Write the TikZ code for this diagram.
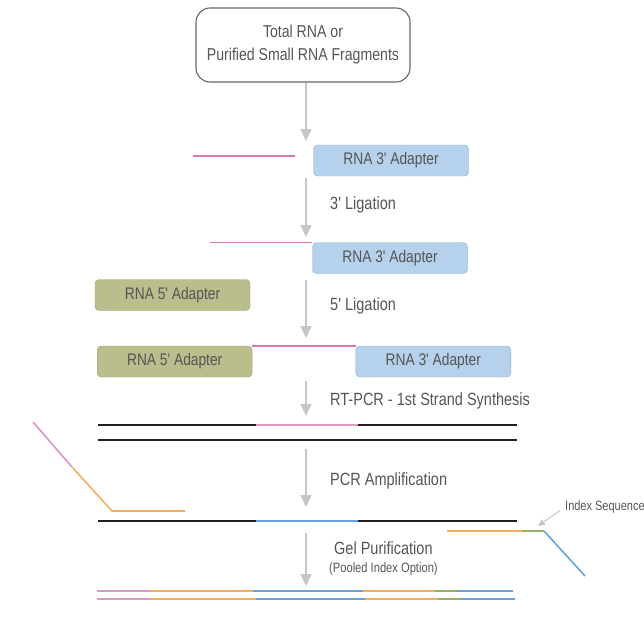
\documentclass[tikz,border=0pt]{standalone}
\usepackage{fontspec}
\newfontfamily\lblfont[FakeStretch=0.82]{Liberation Sans}
\usepackage{tikz}
\usetikzlibrary{positioning, arrows.meta}
\definecolor{tGray}{HTML}{555555}
\definecolor{aGray}{HTML}{C6C6C6}
\definecolor{bBlue}{HTML}{B6D1EB}
\definecolor{bBlueLine}{HTML}{8FAFCF}
\definecolor{bOlive}{HTML}{BABE8C}
\definecolor{bOliveLine}{HTML}{9FA375}
\definecolor{sPink}{HTML}{D878B6}
\definecolor{sOrange}{HTML}{F6AE58}
\definecolor{sBlue}{HTML}{66A3DA}
\definecolor{sGreen}{HTML}{95B062}
\definecolor{sBlack}{HTML}{202020}
\tikzset{
  adapter/.style={draw, rounded corners=4pt, minimum width=155pt, minimum height=31pt, inner sep=0pt,
    text=tGray, font=\lblfont\fontsize{16.8}{19}\selectfont},
  adThree/.style={adapter, fill=bBlue, draw=bBlueLine},
  adFive/.style={adapter, fill=bOlive, draw=bOliveLine},
  stepnote/.style={anchor=west, text=tGray, inner sep=0pt, font=\lblfont\fontsize{17.7}{20}\selectfont},
  flow/.style={draw=aGray, line width=1.5pt, -{Triangle[width=11pt,length=12pt]}},
  strand/.style={line width=1.6pt},
  duplex/.style={line width=2.6pt}
}
\begin{document}
\begin{tikzpicture}[x=1pt, y=-1pt]
  \useasboundingbox (0,0) rectangle (644,619);
  \node[draw=tGray!90, line width=1.1pt, rounded corners=14pt, minimum width=214pt, minimum height=74pt,
    align=center, text=tGray, font=\lblfont\fontsize{17.2}{23}\selectfont] (sample) at (303,45)
    {Total RNA or\\Purified Small RNA Fragments};
  \node[adThree] (ad3a) at (391,160.5) {RNA 3' Adapter};
  \node[adThree] (ad3b) at (390,258) {RNA 3' Adapter};
  \node[adFive] (ad5a) at (172.5,295) {RNA 5' Adapter};
  \node[adFive] (ad5b) at (174.7,361.5) {RNA 5' Adapter};
  \node[adThree] (ad3c) at (433.3,361.5) {RNA 3' Adapter};
  \foreach \n/\ya/\yb in {1/83/141, 2/178/237, 3/280/338, 4/381/416, 5/449/507, 6/533/586} {
    \coordinate (s\n) at (306,\ya);
    \coordinate (e\n) at (306,\yb);
    \draw[flow] (s\n) -- (e\n);
  }
  \node[stepnote] (lig3) at (330,205) {3' Ligation};
  \node[stepnote] (lig5) at (330,306) {5' Ligation};
  \node[stepnote] (rtpcr) at (330,401) {RT-PCR - 1st Strand Synthesis};
  \node[stepnote] (pcr) at (330,481) {PCR Amplification};
  \node[stepnote] (gel) at (334,548) {Gel Purification};
  \node[stepnote, font=\lblfont\fontsize{13.6}{15}\selectfont] (pool) at (329,569) {(Pooled Index Option)};
  \draw[strand, sPink] (193,156) -- (295,156);
  \coordinate (ins2) at (210,243);
  \draw[strand, sPink] (ins2 |- ad3b.north west) -- (ad3b.north west);
  \draw[strand, sPink] (ad5b.north east) -- (ad3c.north west);
  \foreach \xa/\xb/\c in {98/256/sBlack, 256/358/sPink!75, 358/517/sBlack}
    \draw[duplex, \c] (\xa,425) -- (\xb,425);
  \draw[duplex, sBlack] (98,440) -- (517,440);
  \foreach \xa/\xb/\c in {98/256/sBlack, 256/358/sBlue, 358/517/sBlack}
    \draw[duplex, \c] (\xa,521) -- (\xb,521);
  \draw[strand, sPink!80] (33,422) -- (72,467);
  \draw[strand, sOrange, line join=round] (72,467) -- (112,511) -- (185,511);
  \draw[strand, sOrange] (447,531) -- (522,531);
  \draw[strand, sGreen] (522,531) -- (544,531);
  \draw[strand, sBlue] (544,531) -- (585,576);
  \node[anchor=west, text=tGray, inner sep=0pt, font=\lblfont\fontsize{13.4}{15}\selectfont] (idx) at (565,507) {Index Sequence};
  \coordinate (idxtip) at (538,526);
  \draw[draw=aGray, line width=1pt, shorten <=6pt, -{Triangle[width=6pt,length=7pt]}] (idx.west) -- (idxtip);
  \foreach \xa/\xb/\c in {97/150/sPink!80, 150/253/sOrange, 253/363/sBlue, 363/435/sOrange, 435/458/sGreen, 458/513/sBlue}
    \draw[strand, line width=2.2pt, \c] (\xa,591) -- (\xb,591);
  \foreach \xa/\xb/\c in {97/150/sPink!80, 150/256/sOrange, 256/365/sBlue, 365/438/sOrange, 438/461/sGreen, 461/515/sBlue}
    \draw[strand, line width=2.2pt, \c] (\xa,599) -- (\xb,599);
\end{tikzpicture}
\end{document}
